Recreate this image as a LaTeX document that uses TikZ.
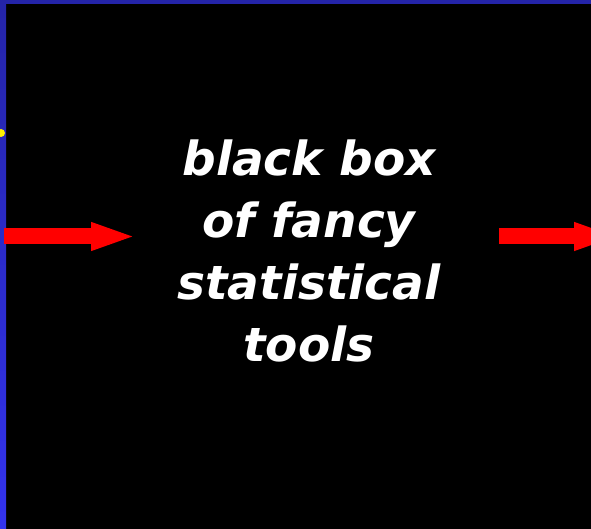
\documentclass[tikz,border=0pt]{standalone}
\usepackage{fontspec}
\setmainfont{DejaVu Sans}
\usetikzlibrary{arrows.meta}
\definecolor{frametop}{HTML}{2424A8}
\definecolor{framebot}{HTML}{3333EE}
\definecolor{flowred}{HTML}{FF0000}

\begin{document}
\begin{tikzpicture}[x=1pt,y=-1pt,
  flow/.style={draw=flowred,line width=16pt,
    -{Triangle[length=46pt,width=25pt,fill=flowred]}},
  boxtext/.style={text=white,align=center,inner sep=0pt,
    font=\fontsize{47}{62}\selectfont\bfseries\itshape}]
  \useasboundingbox (0,0) rectangle (591,529);
  \clip (0,0) rectangle (591,529);
  \fill[black] (0,0) rectangle (591,529);

  % frame
  \shade[top color=frametop,bottom color=framebot] (0,0) rectangle (6,529);
  \fill[frametop] (0,0) rectangle (591,4);
  \fill[yellow] (1,133) circle (4);

  \coordinate (in) at (4,236.5);
  \coordinate (inend) at (137,236.5);
  \coordinate (outstart) at (499,236.5);
  \coordinate (out) at (620,236.5);

  \node[boxtext] (box) at (309,251) {black box\\of fancy\\statistical\\tools};

  \draw[flow] (in) -- (inend);
  \draw[flow] (outstart) -- (out);
\end{tikzpicture}
\end{document}
